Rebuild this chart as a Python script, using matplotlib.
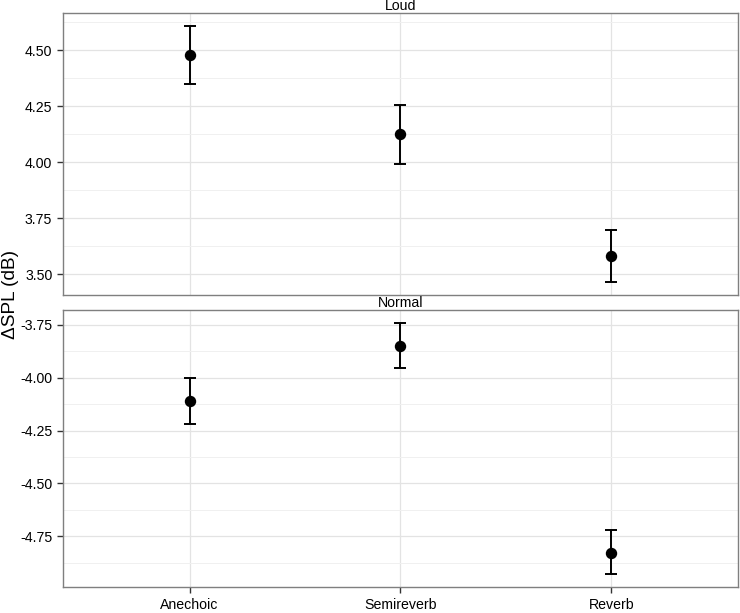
import numpy as np
import matplotlib.pyplot as plt
from matplotlib.ticker import MultipleLocator

plt.rcParams['font.family'] = ['Liberation Sans', 'DejaVu Sans']

# data
conditions = ['Anechoic', 'Semireverb', 'Reverb']
loud_mean = [4.48, 4.125, 3.58]
loud_lo = [4.35, 3.995, 3.465]
loud_hi = [4.61, 4.255, 3.70]
normal_mean = [-4.11, -3.85, -4.83]
normal_lo = [-4.22, -3.955, -4.93]
normal_hi = [-4.00, -3.74, -4.72]

panels = [('Loud', loud_mean, loud_lo, loud_hi),
          ('Normal', normal_mean, normal_lo, normal_hi)]

fig = plt.figure(figsize=(7.4, 6.13), dpi=100)
ax_top = fig.add_axes([0.0851, 0.5188, 0.9122, 0.4600])
ax_bot = fig.add_axes([0.0851, 0.0424, 0.9122, 0.4519])

x = np.arange(1, len(conditions) + 1)

for ax, (name, mean, lo, hi) in zip([ax_top, ax_bot], panels):
    mean = np.array(mean)
    lo = np.array(lo)
    hi = np.array(hi)
    ax.errorbar(x, mean, yerr=[mean - lo, hi - mean], fmt='o', color='black',
                ms=7.2, elinewidth=1.4, capsize=4, capthick=1.4, zorder=3)

    # ggplot-like expansion
    rng = hi.max() - lo.min()
    ax.set_ylim(lo.min() - 0.05 * rng, hi.max() + 0.05 * rng)
    ax.set_xlim(0.4, 3.6)
    ax.set_xticks(x)
    ax.yaxis.set_major_locator(MultipleLocator(0.25))
    ax.yaxis.set_minor_locator(MultipleLocator(0.125))
    ax.yaxis.set_major_formatter(plt.FuncFormatter(lambda v, p: f'{v:.2f}'))
    ax.grid(True, which='major', color='#E3E3E3', lw=0.9, zorder=0)
    ax.grid(True, which='minor', axis='y', color='#F0F0F0', lw=0.7, zorder=0)
    ax.set_axisbelow(True)
    for s in ax.spines.values():
        s.set_color('#7F7F7F')
        s.set_linewidth(1.0)
    ax.tick_params(axis='both', which='major', length=4.3, width=1.0,
                   color='#333333', labelsize=10.2, labelcolor='black', pad=3.4)
    ax.tick_params(axis='y', which='minor', length=0)
    ax.annotate(name, xy=(0.5, 1.0), xycoords='axes fraction',
                xytext=(0, 2.4), textcoords='offset points',
                ha='center', va='baseline', fontsize=10.2, annotation_clip=False)

ax_top.tick_params(axis='x', length=0, labelbottom=False)
ax_bot.set_xticklabels(conditions)

fig.text(0.014, 0.519, 'ΔSPL (dB)', rotation=90, ha='center', va='center',
         fontsize=13.7)

fig.savefig('out.png', dpi=100)
